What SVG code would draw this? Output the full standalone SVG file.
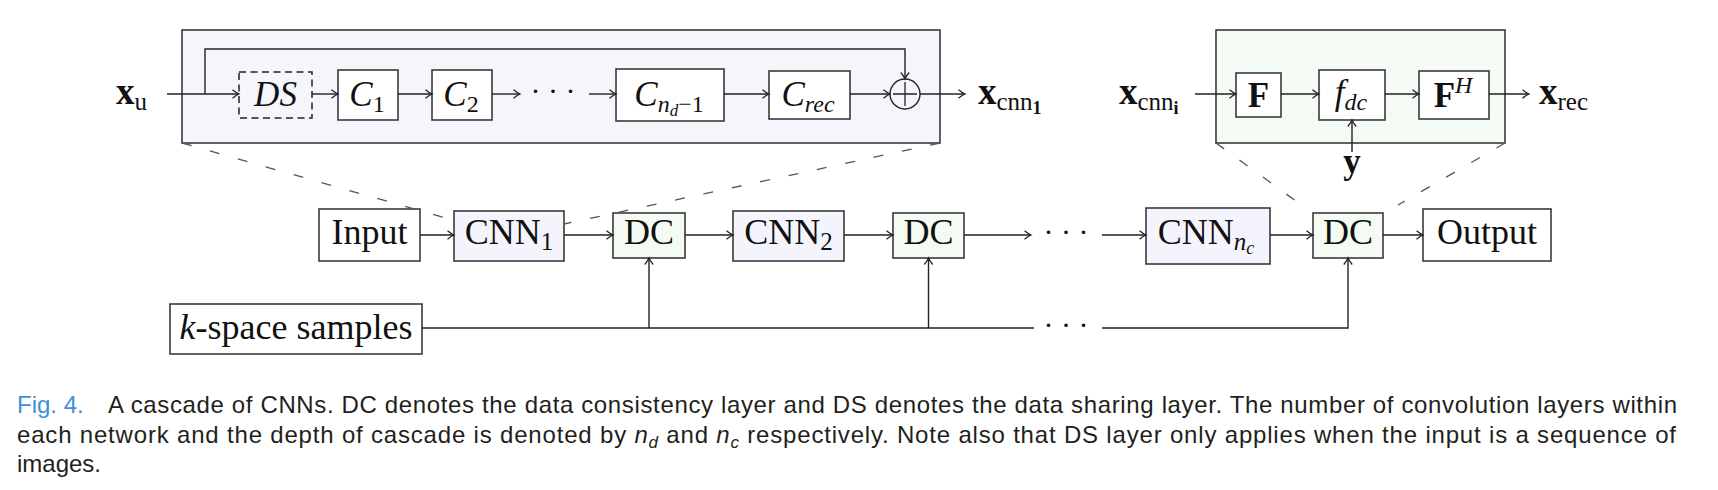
<svg xmlns="http://www.w3.org/2000/svg" width="1718" height="490" viewBox="0 0 1718 490">
<style>
.box{stroke:#3a3a3a;stroke-width:1.6;fill:#fff}
.cnn{fill:#f4f5fc}
.dc{fill:#f3fbf3}
.panelL{fill:#f5f6fc;stroke:#3a3a3a;stroke-width:1.6}
.panelR{fill:#f4fbf4;stroke:#3a3a3a;stroke-width:1.6}
.ds{fill:none;stroke:#222;stroke-width:1.5;stroke-dasharray:7 4.5}
.con{fill:none;stroke:#222;stroke-width:1.4}
.zoom{fill:none;stroke:#555;stroke-width:1.3;stroke-dasharray:10 19}
.t{font-family:"Liberation Serif","DejaVu Serif",serif;fill:#111}
.m{font-family:"Liberation Serif","DejaVu Serif",serif;font-style:italic;fill:#111}
.b{font-family:"Liberation Serif","DejaVu Serif",serif;font-weight:bold;fill:#111}
.cap{font-family:"Liberation Sans","Arial",sans-serif;font-size:24px;fill:#231f20}
</style>
<defs>
<marker id="arr" markerWidth="12" markerHeight="12" refX="10" refY="6" orient="auto" markerUnits="userSpaceOnUse">
<path d="M3.5,1.8 Q7.5,5 10,6 Q7.5,7 3.5,10.2" fill="none" stroke="#222" stroke-width="1.3"/>
</marker>
</defs>

<!-- zoom panels -->
<g id="panel-cnn">
<rect class="panelL" x="182" y="30" width="758" height="113"/>
</g>
<g id="panel-dc">
<rect class="panelR" x="1216" y="30" width="289" height="113"/>
</g>

<!-- CNN detail nodes -->
<g id="xu"><text class="b" x="116" y="104" font-size="37">x<tspan class="t" font-weight="normal" font-size="25" dy="6">u</tspan></text></g>
<g id="ds"><rect class="ds" x="239" y="72" width="73" height="46"/><text class="m" x="275.5" y="106" font-size="35" text-anchor="middle">DS</text></g>
<g id="c1"><rect class="box" x="338" y="70" width="60" height="50"/><text class="m" x="367" y="106" font-size="35" text-anchor="middle">C<tspan class="t" font-style="normal" font-size="24" dy="6">1</tspan></text></g>
<g id="c2"><rect class="box" x="432" y="70" width="60" height="50"/><text class="m" x="461" y="106" font-size="35" text-anchor="middle">C<tspan class="t" font-style="normal" font-size="24" dy="6">2</tspan></text></g>
<g id="dots1"><text class="t" x="553" y="101" font-size="30" text-anchor="middle">· · ·</text></g>
<g id="cnd"><rect class="box" x="616" y="69" width="108" height="52"/><text class="m" x="669" y="106" font-size="35" text-anchor="middle">C<tspan font-size="24" dy="6">n</tspan><tspan font-size="17" dy="4">d</tspan><tspan class="t" font-style="normal" font-size="24" dy="-4">−1</tspan></text></g>
<g id="crec"><rect class="box" x="769" y="71" width="81" height="48"/><text class="m" x="808" y="106" font-size="35" text-anchor="middle">C<tspan font-size="24" dy="6">rec</tspan></text></g>
<g id="plus"><circle cx="905" cy="94" r="15" fill="none" stroke="#222" stroke-width="1.4"/><path d="M905,82 V106 M893,94 H917" stroke="#222" stroke-width="1.3"/></g>
<g id="xcnn1"><text class="b" x="978" y="104" font-size="37">x<tspan class="t" font-weight="normal" font-size="25" dy="6">cnn</tspan><tspan font-size="18" dy="4">1</tspan></text></g>

<!-- DC detail nodes -->
<g id="xcnni"><text class="b" x="1119" y="104" font-size="37">x<tspan class="t" font-weight="normal" font-size="25" dy="6">cnn</tspan><tspan font-size="18" dy="4">i</tspan></text></g>
<g id="F"><rect class="box" x="1236" y="73" width="45" height="44"/><text class="b" x="1258.5" y="107" font-size="35" text-anchor="middle">F</text></g>
<g id="fdc"><rect class="box" x="1319" y="70" width="66" height="50"/><text class="m" x="1351" y="104" font-size="35" text-anchor="middle">f<tspan font-size="24" dy="6">dc</tspan></text></g>
<g id="FH"><rect class="box" x="1419" y="71" width="70" height="48"/><text class="b" x="1453" y="107" font-size="35" text-anchor="middle">F<tspan class="m" font-weight="normal" font-size="24" dy="-14">H</tspan></text></g>
<g id="xrec"><text class="b" x="1539" y="104" font-size="37">x<tspan class="t" font-weight="normal" font-size="25" dy="6">rec</tspan></text></g>
<g id="ylab"><text class="b" x="1352" y="173" font-size="35" text-anchor="middle">y</text></g>

<!-- main cascade nodes -->
<g id="input"><rect class="box" x="319" y="209" width="101" height="52"/><text class="t" x="369.5" y="244" font-size="36" text-anchor="middle">Input</text></g>
<g id="cnn1"><rect class="box cnn" x="454" y="211" width="110" height="50"/><text class="t" x="509" y="244" font-size="36" text-anchor="middle">CNN<tspan font-size="25" dy="6">1</tspan></text></g>
<g id="dc1"><rect class="box dc" x="613" y="213" width="72" height="45"/><text class="t" x="649" y="244" font-size="36" text-anchor="middle">DC</text></g>
<g id="cnn2"><rect class="box cnn" x="733" y="211" width="111" height="50"/><text class="t" x="788.5" y="244" font-size="36" text-anchor="middle">CNN<tspan font-size="25" dy="6">2</tspan></text></g>
<g id="dc2"><rect class="box dc" x="893" y="213" width="71" height="45"/><text class="t" x="928.5" y="244" font-size="36" text-anchor="middle">DC</text></g>
<g id="dots2"><text class="t" x="1066" y="242" font-size="30" text-anchor="middle">· · ·</text></g>
<g id="cnnnc"><rect class="box cnn" x="1146" y="208" width="124" height="56"/><text class="t" x="1206" y="244" font-size="36" text-anchor="middle">CNN<tspan class="m" font-size="25" dy="6">n</tspan><tspan class="m" font-size="18" dy="4">c</tspan></text></g>
<g id="dc3"><rect class="box dc" x="1313" y="213" width="70" height="45"/><text class="t" x="1348" y="244" font-size="36" text-anchor="middle">DC</text></g>
<g id="output"><rect class="box" x="1423" y="209" width="128" height="52"/><text class="t" x="1487" y="244" font-size="36" text-anchor="middle">Output</text></g>
<g id="kspace"><rect class="box" x="170" y="304" width="252" height="50"/><text class="t" x="296" y="339" font-size="36" text-anchor="middle"><tspan class="m">k</tspan>-space samples</text></g>
<g id="dots3"><text class="t" x="1066" y="335" font-size="30" text-anchor="middle">· · ·</text></g>

<!-- connectors -->
<g id="connectors">
<path class="con" d="M167,94 H239" marker-end="url(#arr)"/>
<path class="con" d="M205,94 V49 H905 V79" marker-end="url(#arr)"/>
<path class="con" d="M312,94 H338" marker-end="url(#arr)"/>
<path class="con" d="M398,94 H432" marker-end="url(#arr)"/>
<path class="con" d="M492,94 H520" marker-end="url(#arr)"/>
<path class="con" d="M589,94 H616" marker-end="url(#arr)"/>
<path class="con" d="M724,94 H769" marker-end="url(#arr)"/>
<path class="con" d="M850,94 H890" marker-end="url(#arr)"/>
<path class="con" d="M920,94 H965" marker-end="url(#arr)"/>
<path class="con" d="M1195,94 H1236" marker-end="url(#arr)"/>
<path class="con" d="M1281,94 H1319" marker-end="url(#arr)"/>
<path class="con" d="M1385,94 H1419" marker-end="url(#arr)"/>
<path class="con" d="M1489,94 H1529" marker-end="url(#arr)"/>
<path class="con" d="M1352,152 V120" marker-end="url(#arr)"/>

<path class="con" d="M420,235 H454" marker-end="url(#arr)"/>
<path class="con" d="M564,235 H613" marker-end="url(#arr)"/>
<path class="con" d="M685,235 H733" marker-end="url(#arr)"/>
<path class="con" d="M844,235 H893" marker-end="url(#arr)"/>
<path class="con" d="M964,235 H1031" marker-end="url(#arr)"/>
<path class="con" d="M1102,235 H1146" marker-end="url(#arr)"/>
<path class="con" d="M1270,235 H1313" marker-end="url(#arr)"/>
<path class="con" d="M1383,235 H1423" marker-end="url(#arr)"/>

<path class="con" d="M422,328 H1034"/>
<path class="con" d="M649,328 V258" marker-end="url(#arr)"/>
<path class="con" d="M928.5,328 V258" marker-end="url(#arr)"/>
<path class="con" d="M1102,328 H1348 V258" marker-end="url(#arr)"/>

<path class="zoom" d="M182,143 L453,220"/>
<path class="zoom" d="M940,143 L564,224"/>
<path class="zoom" d="M1216,143 L1300,204"/>
<path class="zoom" d="M1505,143 L1398,205"/>
</g>

<!-- caption -->
<g id="caption">
<text class="cap" x="17" y="413" style="fill:#3d8fd8">Fig. 4.</text>
<text class="cap" x="108" y="413" textLength="1569" lengthAdjust="spacing">A cascade of CNNs. DC denotes the data consistency layer and DS denotes the data sharing layer. The number of convolution layers within</text>
<text class="cap" x="17" y="443" textLength="1659" lengthAdjust="spacing">each network and the depth of cascade is denoted by <tspan font-style="italic">n</tspan><tspan font-style="italic" font-size="17" dy="5">d</tspan><tspan dy="-5"> and </tspan><tspan font-style="italic">n</tspan><tspan font-style="italic" font-size="17" dy="5">c</tspan><tspan dy="-5"> respectively. Note also that DS layer only applies when the input is a sequence of</tspan></text>
<text class="cap" x="17" y="472">images.</text>
</g>
</svg>
